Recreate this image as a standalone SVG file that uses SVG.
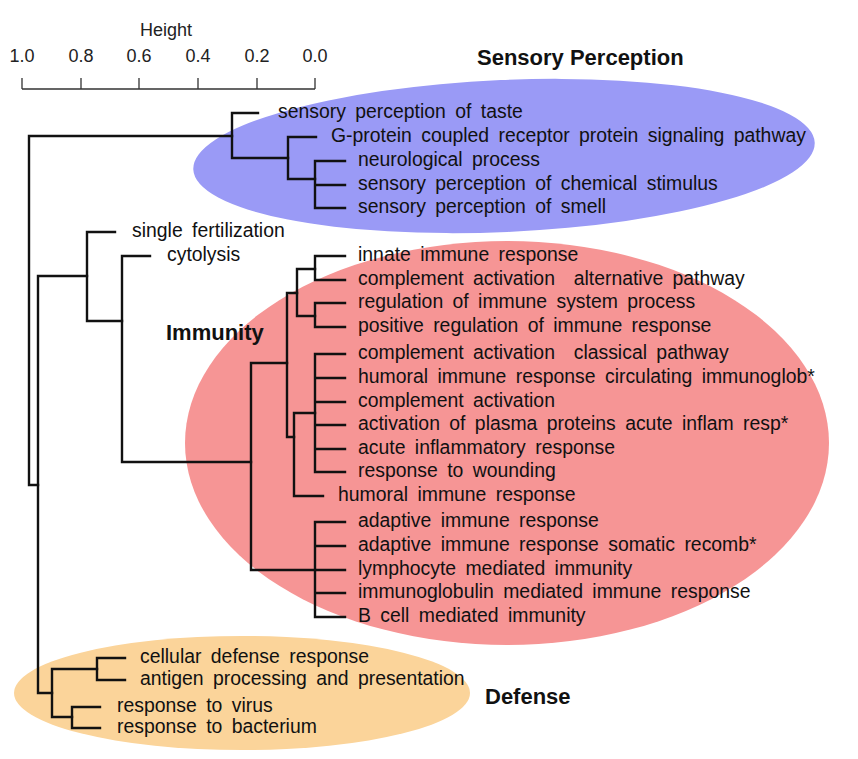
<svg xmlns="http://www.w3.org/2000/svg" width="858" height="759" viewBox="0 0 858 759">
<style>
.bg{fill:#ffffff}
.lab{font-family:"Liberation Sans",Arial,sans-serif;font-size:19.4px;fill:#111;word-spacing:4px}
.title{font-family:"Liberation Sans",Arial,sans-serif;font-size:22px;font-weight:bold;fill:#111}
.tick{font-family:"Liberation Sans",Arial,sans-serif;font-size:18px;fill:#222;text-anchor:middle}
.axis{fill:none;stroke:#333;stroke-width:1.3}
.br{fill:none;stroke:#111;stroke-width:2.4;stroke-linejoin:miter;stroke-linecap:square}
</style>
<rect class="bg" x="0" y="0" width="858" height="759"/>
<g id="clusters">
<ellipse id="sensory-region" cx="504" cy="156" rx="311" ry="76" fill="#9a9af6" transform="rotate(-2.5 504 156)"/>
<ellipse id="immunity-region" cx="507" cy="443" rx="322" ry="202" fill="#f69595"/>
<ellipse id="defense-region" cx="242" cy="693" rx="228" ry="57" fill="#fbd49a"/>
</g>
<g id="axis">
<path class="axis" d="M22,89 H315 M22,78 V89 M81,78 V89 M139,78 V89 M198,78 V89 M257,78 V89 M315,78 V89"/>
<text x="166" y="36" class="tick">Height</text>
<text x="22" y="62" class="tick">1.0</text>
<text x="81" y="62" class="tick">0.8</text>
<text x="139" y="62" class="tick">0.6</text>
<text x="198" y="62" class="tick">0.4</text>
<text x="257" y="62" class="tick">0.2</text>
<text x="315" y="62" class="tick">0.0</text>
</g>
<g id="connectors">
<path class="br" d="M232,136 H29 V485 H38"/>
<path class="br" d="M258,113 H232 V158 H288"/>
<path class="br" d="M316,137 H288 V179 H315"/>
<path class="br" d="M345,161 H315 V208 H345 M315,185 H345"/>
<path class="br" d="M87,276 H38 V693 H52"/>
<path class="br" d="M115,232 H87 V321 H122"/>
<path class="br" d="M150,256 H122 V462 H251"/>
<path class="br" d="M287,363 H251 V570 H315"/>
<path class="br" d="M297,293 H287 V437 H294"/>
<path class="br" d="M315,269 H297 V316 H315"/>
<path class="br" d="M345,256 H315 V280 H345"/>
<path class="br" d="M345,303 H315 V327 H345"/>
<path class="br" d="M315,413 H294 V496 H323"/>
<path class="br" d="M345,354 H315 V472 H345 M315,378 H345 M315,402 H345 M315,425 H345 M315,449 H345"/>
<path class="br" d="M345,522 H315 V617 H345 M315,546 H345 M315,570 H345 M315,593 H345"/>
<path class="br" d="M97,669 H52 V717 H72"/>
<path class="br" d="M125,658 H97 V680 H125"/>
<path class="br" d="M100,707 H72 V728 H100"/>
</g>
<g id="titles">
<text id="t-sensory" x="477" y="65" class="title">Sensory Perception</text>
<text id="t-immunity" x="166" y="340" class="title">Immunity</text>
<text id="t-defense" x="485" y="704" class="title">Defense</text>
</g>
<g id="leaves">
<text id="n1" x="278" y="118" class="lab">sensory perception of taste</text>
<text id="n2" x="331" y="142" class="lab">G-protein coupled receptor protein signaling pathway</text>
<text id="n3" x="358" y="166" class="lab">neurological process</text>
<text id="n4" x="358" y="190" class="lab">sensory perception of chemical stimulus</text>
<text id="n5" x="358" y="213" class="lab">sensory perception of smell</text>
<text id="n6" x="132" y="237" class="lab">single fertilization</text>
<text id="n7" x="167" y="261" class="lab">cytolysis</text>
<text id="n8" x="358" y="261" class="lab">innate immune response</text>
<text id="n9" x="358" y="285" class="lab" xml:space="preserve">complement activation  alternative pathway</text>
<text id="n10" x="358" y="308" class="lab">regulation of immune system process</text>
<text id="n11" x="358" y="332" class="lab">positive regulation of immune response</text>
<text id="n12" x="358" y="359" class="lab" xml:space="preserve">complement activation  classical pathway</text>
<text id="n13" x="358" y="383" class="lab">humoral immune response circulating immunoglob*</text>
<text id="n14" x="358" y="407" class="lab">complement activation</text>
<text id="n15" x="358" y="430" class="lab">activation of plasma proteins acute inflam resp*</text>
<text id="n16" x="358" y="454" class="lab">acute inflammatory response</text>
<text id="n17" x="358" y="477" class="lab">response to wounding</text>
<text id="n18" x="338" y="501" class="lab">humoral immune response</text>
<text id="n19" x="358" y="527" class="lab">adaptive immune response</text>
<text id="n20" x="358" y="551" class="lab">adaptive immune response somatic recomb*</text>
<text id="n21" x="358" y="575" class="lab">lymphocyte mediated immunity</text>
<text id="n22" x="358" y="598" class="lab">immunoglobulin mediated immune response</text>
<text id="n23" x="358" y="622" class="lab">B cell mediated immunity</text>
<text id="n24" x="140" y="663" class="lab">cellular defense response</text>
<text id="n25" x="140" y="685" class="lab">antigen processing and presentation</text>
<text id="n26" x="117" y="712" class="lab">response to virus</text>
<text id="n27" x="117" y="733" class="lab">response to bacterium</text>
</g>
</svg>
